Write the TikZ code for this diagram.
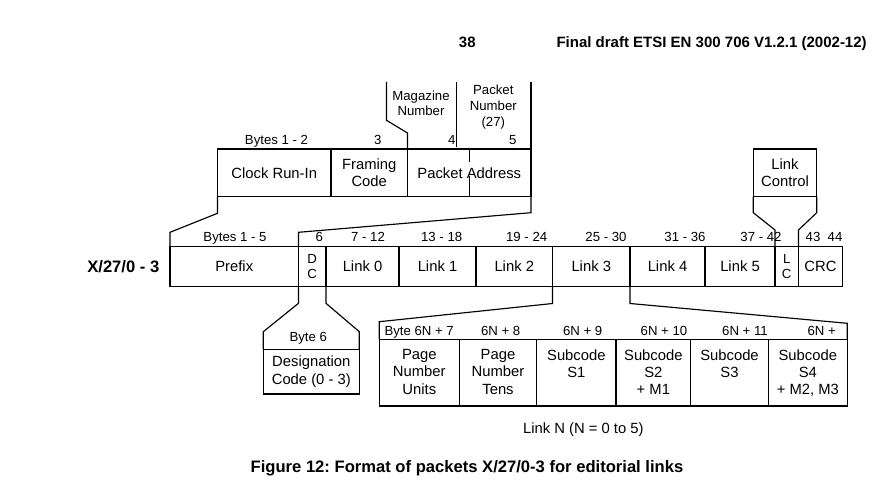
\documentclass[tikz,border=0pt]{standalone}
\usepackage{fontspec}
\setmainfont{Liberation Sans}
\newcommand\txtsz{\fontsize{14.8}{17.2}\selectfont}
\newcommand\lblsz{\fontsize{13.2}{15.5}\selectfont}
\newcommand\pnsz{\fontsize{13.2}{16.4}\selectfont}
\newcommand\capsz{\bfseries\fontsize{16.6}{20}\selectfont}
\newcommand\hdrsz{\bfseries\fontsize{15}{18}\selectfont}
\frenchspacing
\begin{document}
\begin{tikzpicture}[x=1pt,y=-1pt,
  every node/.style={inner sep=0pt, outer sep=0pt},
  cell/.style={draw, line width=1.15pt, anchor=north west, align=center, font=\txtsz},
  conn/.style={draw, line width=1.15pt},
  lbl/.style={font=\lblsz, anchor=base},
  txt/.style={font=\txtsz, anchor=base},
  multi/.style={font=\txtsz, align=center, anchor=north}
]
\useasboundingbox[fill=white] (0,0) rectangle (878,484);

% header
\node[font=\hdrsz, anchor=base] (pageno) at (467.3,47.1) {38};
\node[font=\hdrsz, anchor=base east] (hdr) at (866.7,47.1) {Final draft ETSI EN 300 706 V1.2.1 (2002-12)};

% top row
\node[cell, minimum width=113.5pt, minimum height=47.5pt] (clock) at (217.5,149) {Clock Run-In};
\node[cell, minimum width=76.5pt, minimum height=47.5pt] (framing) at (331,149) {Framing\\Code};
\node[cell, minimum width=123.5pt, minimum height=47.5pt] (pa) at (407.5,149) {Packet Address};
\draw[conn] (pa.north) -- ++(0,12.5);
\draw[conn] (pa.south) -- ++(0,-20.5);

\node[lbl] (b12) at (276.5,144.2) {Bytes 1 - 2};
\node[lbl] (b3) at (377.7,144.2) {3};
\node[lbl] (b4) at (451.7,144.2) {4};
\node[lbl] (b5) at (512.7,144.2) {5};

% magazine / packet number
\coordinate (magtop) at (386.5,82);
\draw[conn] (magtop) -- ++(0,38.3) -- ++(21,12.7) -- (pa.north west);
\node[font=\lblsz, align=center, anchor=north] (magtxt) at (421,90.6) {Magazine\\Number};
\coordinate (pntopl) at (456.7,82);
\coordinate (pnbotl) at (456.7,147);
\draw[conn] (pntopl) -- (pnbotl);
\coordinate (pntopr) at (531,82);
\draw[conn] (pntopr) -- (pa.north east);
\node[font=\pnsz, align=center, anchor=north] (pntxt) at (493.3,84.6) {Packet\\Number\\(27)};

% link control
\node[cell, minimum width=63.4pt, minimum height=47.7pt] (lcbox) at (753.3,149) {Link\\Control};

% main row
\node[font=\capsz, anchor=base] (pkt) at (123.3,272) {X/27/0 - 3};
\node[cell, minimum width=128.5pt, minimum height=40pt] (prefix) at (170,246.5) {Prefix};
\node[cell, minimum width=27.5pt, minimum height=40pt, font=\lblsz] (dc) at (298.5,246.5) {D\\C};
\node[cell, minimum width=73pt, minimum height=40pt] (l0) at (326,246.5) {Link 0};
\node[cell, minimum width=77pt, minimum height=40pt] (l1) at (399,246.5) {Link 1};
\node[cell, minimum width=76.5pt, minimum height=40pt] (l2) at (476,246.5) {Link 2};
\node[cell, minimum width=77.5pt, minimum height=40pt] (l3) at (552.5,246.5) {Link 3};
\node[cell, minimum width=75pt, minimum height=40pt] (l4) at (630,246.5) {Link 4};
\node[cell, minimum width=70pt, minimum height=40pt] (l5) at (705,246.5) {Link 5};
\node[cell, minimum width=23.5pt, minimum height=40pt, font=\lblsz] (lc) at (775,246.5) {L\\C};
\node[cell, minimum width=44pt, minimum height=40pt] (crc) at (798.5,246.5) {CRC};

\node[lbl] (b15) at (235,241.4) {Bytes 1 - 5};
\node[lbl] (b6a) at (319.3,241.4) {6};
\node[lbl] (b712) at (368,241.4) {7 - 12};
\node[lbl] (b1318) at (441.7,241.4) {13 - 18};
\node[lbl] (b1924) at (526.7,241.4) {19 - 24};
\node[lbl] (b2530) at (606,241.4) {25 - 30};
\node[lbl] (b3136) at (685,241.4) {31 - 36};
\node[lbl] (b3742) at (761,241.4) {37 - 42};
\node[lbl] (b43) at (813,241.4) {43};
\node[lbl] (b44) at (835,241.4) {44};

% connectors top -> main
\draw[conn] (clock.south west) -- ++(0,16.8) -- ([yshift=14.2pt]prefix.north west) -- (prefix.north west);
\draw[conn] (pa.south east) -- ++(0,16.2) -- ([yshift=14.2pt]dc.north west) -- (dc.north west);
\draw[conn] (lcbox.south west) -- ++(0,16) -- ([yshift=16.5pt]lc.north west) -- (lc.north west);
\draw[conn] (lcbox.south east) -- ++(0,16) -- ([yshift=16.5pt]lc.north east) -- (lc.north east);

% designation code
\node[cell, minimum width=96pt, minimum height=44.7pt] (desig) at (263.3,349.3) {Designation\\Code (0 - 3)};
\draw[conn] (dc.south west) -- ++(0,16.8) -- ([yshift=17.6pt]desig.north west) -- (desig.north west);
\draw[conn] (dc.south east) -- ++(0,16.8) -- ([yshift=17.6pt]desig.north east) -- (desig.north east);
\node[lbl] (byte6) at (308.3,341.4) {Byte 6};

% link N
\node[cell, minimum width=80pt, minimum height=66.7pt] (n1) at (379.3,339.3) {};
\node[cell, minimum width=77.4pt, minimum height=66.7pt] (n2) at (459.3,339.3) {};
\node[cell, minimum width=79.3pt, minimum height=66.7pt] (n3) at (536.7,339.3) {};
\node[cell, minimum width=74.7pt, minimum height=66.7pt] (n4) at (616,339.3) {};
\node[cell, minimum width=77.6pt, minimum height=66.7pt] (n5) at (690.7,339.3) {};
\node[cell, minimum width=79pt, minimum height=66.7pt] (n6) at (768.3,339.3) {};

\node[multi] (t1) at ([yshift=-10.2pt]n1.north) {Page\\Number\\Units};
\node[multi] (t2) at ([yshift=-10.2pt]n2.north) {Page\\Number\\Tens};
\node[multi] (t3) at ([yshift=-10.2pt]n3.north) {Subcode\\S1};
\node[multi] (t4) at ([yshift=-10.2pt]n4.north) {Subcode\\S2\\+ M1};
\node[multi] (t5) at ([yshift=-10.2pt]n5.north) {Subcode\\S3};
\node[multi] (t6) at ([yshift=-10.2pt]n6.north) {Subcode\\S4\\+ M2, M3};

\node[lbl, anchor=base west] (bn7) at (384.5,335.4) {Byte 6N + 7};
\node[lbl] (bn8) at (500.7,335.4) {6N + 8};
\node[lbl] (bn9) at (582.7,335.4) {6N + 9};
\node[lbl] (bn10) at (664,335.4) {6N + 10};
\node[lbl] (bn11) at (745,335.4) {6N + 11};
\node[lbl] (bn12) at (821.7,335.4) {6N +};

\draw[conn] (l3.south west) -- ++(0,17) -- ([yshift=17.6pt]n1.north west) -- (n1.north west);
\draw[conn] (l3.south east) -- ++(0,17) -- ([yshift=16pt]n6.north east) -- (n6.north east);

\node[txt] (linkn) at (583.3,433.6) {Link N (N = 0 to 5)};

% caption
\node[font=\capsz, anchor=base] (caption) at (467,472.6) {Figure 12: Format of packets X/27/0-3 for editorial links};
\end{tikzpicture}
\end{document}
